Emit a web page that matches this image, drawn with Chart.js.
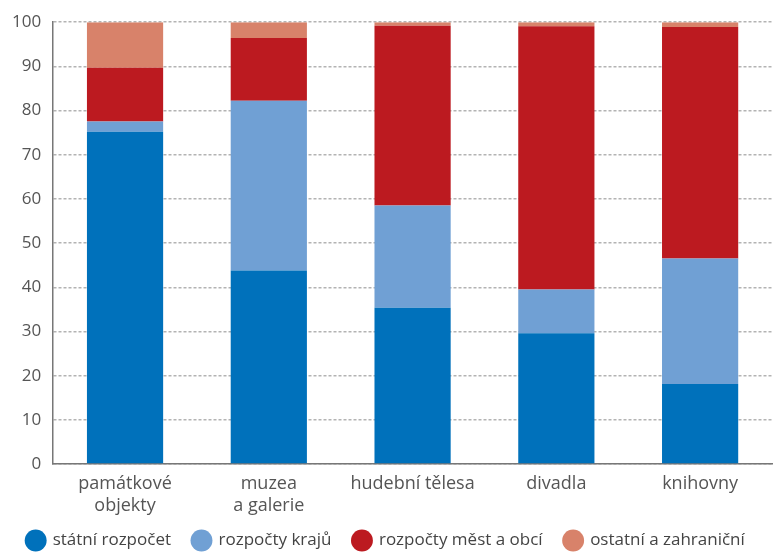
<!DOCTYPE html>
<html>
<head>
<meta charset="utf-8">
<script src="https://cdn.jsdelivr.net/npm/chart.js@4/dist/chart.umd.min.js"></script>
<style>
  html, body { margin: 0; padding: 0; background: #fff; }
  #wrap { width: 781px; height: 552px; position: relative; }
</style>
</head>
<body>
<div id="wrap"><canvas id="graf"></canvas></div>
<script>
const kategorie = [['památkové', 'objekty'], ['muzea', 'a galerie'], 'hudební tělesa', 'divadla', 'knihovny'];
const statniRozpocet = [75.2, 43.8, 35.4, 29.6, 18.1];
const rozpoctyKraju = [2.3, 38.4, 23.1, 9.9, 28.4];
const rozpoctyMestObci = [12.2, 14.2, 40.7, 59.6, 52.4];
const ostatniZahranicni = [10.3, 3.6, 0.8, 0.9, 1.1];

const pismo = '"Open Sans", "Noto Sans", sans-serif';

// legenda ma velke mezery mezi polozkami, ale nema byt tak vysoka
const legendaPosun = {
    id: 'legendaPosun',
    beforeLayout(chart) {
        const leg = chart.legend;
        if (leg && !leg._upraveno) {
            const fit = leg.fit;
            leg.fit = function () { fit.call(this); this.height -= 23; };
            leg._upraveno = true;
        }
    },
    afterLayout(chart) {
        const leg = chart.legend;
        leg.top -= 16;
        leg.bottom = chart.height;
        leg.height = leg.bottom - leg.top;
    }
};

const ctx = document.getElementById('graf').getContext('2d');
new Chart(ctx, {
    type: 'bar',
    data: {
        labels: kategorie,
        datasets: [
            { label: 'státní rozpočet', data: statniRozpocet, backgroundColor: '#0071bb' },
            { label: 'rozpočty krajů', data: rozpoctyKraju, backgroundColor: '#70a0d4' },
            { label: 'rozpočty měst a obcí', data: rozpoctyMestObci, backgroundColor: '#bc1a20' },
            { label: 'ostatní a zahraniční', data: ostatniZahranicni, backgroundColor: '#d8826a' }
        ]
    },
    options: {
        responsive: true,
        maintainAspectRatio: false,
        animation: false,
        barPercentage: 0.53,
        categoryPercentage: 1,
        layout: { padding: { top: 12, right: 9, left: 0, bottom: 0 } },
        plugins: {
            tooltip: { enabled: false },
            legend: {
                position: 'bottom',
                labels: {
                    usePointStyle: true,
                    pointStyle: 'circle',
                    boxWidth: 17,
                    boxHeight: 15.5,
                    padding: 22,
                    color: '#444',
                    font: { family: pismo, size: 17 }
                }
            }
        },
        scales: {
            x: {
                stacked: true,
                grid: { display: false, drawTicks: false },
                border: { display: true, color: '#777', width: 1.5 },
                ticks: { color: '#555', font: { family: pismo, size: 18, lineHeight: 1.22 }, padding: 9, maxRotation: 0 }
            },
            y: {
                stacked: true,
                min: 0,
                max: 100,
                ticks: { stepSize: 10, color: '#555', font: { family: pismo, size: 17 }, padding: 12 },
                grid: { color: '#b3b3b3', drawTicks: false, lineWidth: 1.5 },
                border: { display: true, color: '#777', width: 1.5, dash: [3, 2] }
            }
        }
    },
    plugins: [legendaPosun]
});
</script>
</body>
</html>
